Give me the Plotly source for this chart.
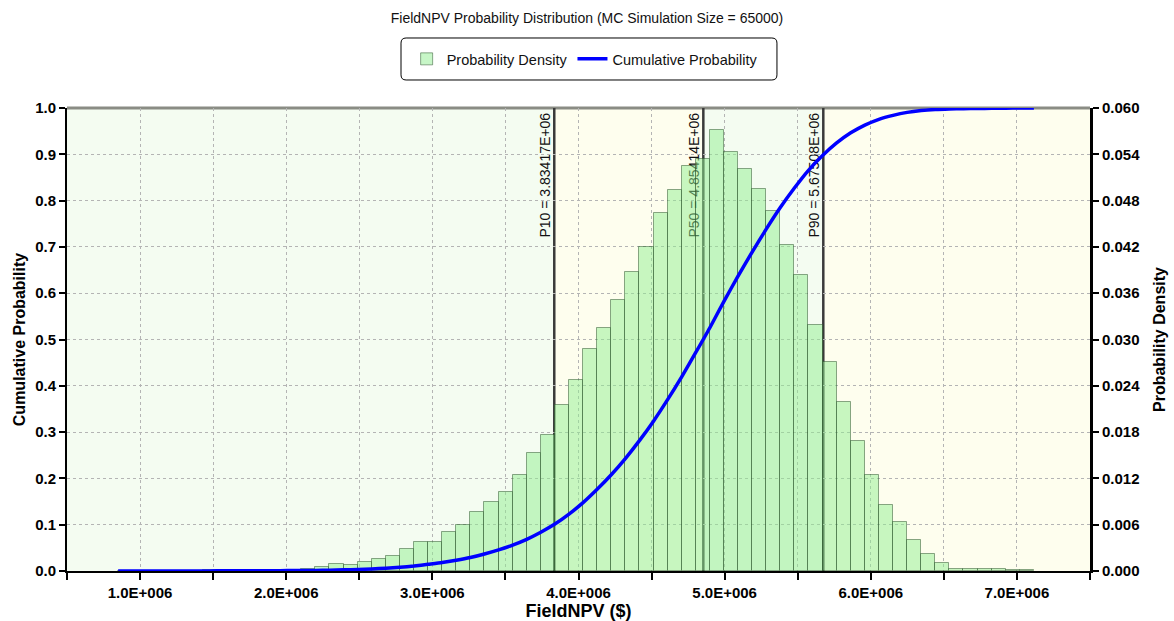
import plotly.graph_objects as go

# ---------------- data ----------------
bin_start = 0.85e6          # left edge of first histogram bin ($)
bin_width = 0.0964e6        # histogram bin width ($)

# probability per bin (right axis)
density = [
    0.00002, 0.00003, 0.00002, 0.00005, 0.00003, 0.00006, 0.00008, 0.00006,
    0.00010, 0.00012, 0.00011, 0.00015, 0.00018, 0.00020,
    0.00048, 0.00087, 0.00078, 0.00120, 0.00150, 0.00200, 0.00280, 0.00370,
    0.00370, 0.00500, 0.00590, 0.00770, 0.00890, 0.01020, 0.01250, 0.01530,
    0.01760, 0.02150, 0.02470, 0.02880, 0.03150, 0.03510, 0.03870, 0.04200,
    0.04640, 0.04940, 0.05250, 0.05340, 0.05710, 0.05430, 0.05210, 0.04950,
    0.04660, 0.04220, 0.03830, 0.03190, 0.02710, 0.02190, 0.01680, 0.01250,
    0.00850, 0.00640, 0.00400, 0.00220, 0.00110,
    0.00030, 0.00025, 0.00020, 0.00020, 0.00015, 0.00010,
]

# cumulative probability at each bin edge (left axis)
cum_prob = [
    0.0, 0.00002, 0.00005, 0.00007, 0.00012, 0.00015, 0.00021, 0.00029,
    0.00035, 0.00045, 0.00057, 0.00068, 0.00083, 0.00101, 0.00121,
    0.00169, 0.00256, 0.00334, 0.00454, 0.00604, 0.00804, 0.01084, 0.01454,
    0.01824, 0.02324, 0.02914, 0.03684, 0.04574, 0.05594, 0.06844, 0.08374,
    0.10134, 0.12284, 0.14754, 0.17634, 0.20784, 0.24294, 0.28164, 0.32364,
    0.37004, 0.41944, 0.47194, 0.52534, 0.58244, 0.63674, 0.68884, 0.73834,
    0.78494, 0.82714, 0.86544, 0.89734, 0.92444, 0.94634, 0.96314, 0.97564,
    0.98414, 0.99054, 0.99454, 0.99674, 0.99784, 0.99844, 0.99894, 0.99934,
    0.99964, 0.99985, 1.0,
]

p_names = ["P10", "P50", "P90"]
p_values = [3.83417e6, 4.85414e6, 5.67508e6]
p_texts = ["P10 = 3.83417E+06", "P50 = 4.85414E+06", "P90 = 5.67508E+06"]

x_range = [0.5e6, 7.5e6]
x_tickvals = [0.5e6, 1.0e6, 1.5e6, 2.0e6, 2.5e6, 3.0e6, 3.5e6, 4.0e6,
              4.5e6, 5.0e6, 5.5e6, 6.0e6, 6.5e6, 7.0e6, 7.5e6]
x_ticktext = ["", "1.0E+006", "", "2.0E+006", "", "3.0E+006", "", "4.0E+006",
              "", "5.0E+006", "", "6.0E+006", "", "7.0E+006", ""]

title_text = "FieldNPV Probability Distribution (MC Simulation Size = 65000)"

# ---------------- figure ----------------
FONT = "Liberation Sans, Arial, sans-serif"
GREEN_BG = "#F4FCF1"
YELLOW_BG = "#FEFEEE"

bar_x = [bin_start + (i + 0.5) * bin_width for i in range(len(density))]
cum_x = [bin_start + i * bin_width for i in range(len(cum_prob))]

fig = go.Figure()
fig.add_trace(go.Bar(
    x=bar_x, y=density, width=bin_width, name="Probability Density",
    marker=dict(color="rgba(144,238,144,0.5)",
                line=dict(color="rgba(40,80,40,0.5)", width=1)),
    yaxis="y",
))
fig.add_trace(go.Scatter(
    x=cum_x, y=cum_prob, mode="lines", name="Cumulative Probability",
    line=dict(color="#0000FF", width=3.5, shape="spline", smoothing=0.6),
    yaxis="y2",
))

shapes = []
# background bands
bounds = [x_range[0]] + p_values + [x_range[1]]
band_cols = [GREEN_BG, YELLOW_BG, GREEN_BG, YELLOW_BG]
for i, c in enumerate(band_cols):
    shapes.append(dict(type="rect", xref="x", yref="paper",
                       x0=bounds[i], x1=bounds[i + 1], y0=0, y1=1,
                       fillcolor=c, line=dict(width=0), layer="below"))
# top border
shapes.append(dict(type="line", xref="paper", yref="paper", x0=0, x1=1,
                   y0=1, y1=1, line=dict(color="#8A8C84", width=3),
                   layer="between"))
# percentile lines
for v, t in zip(p_values, p_texts):
    shapes.append(dict(type="line", xref="x", yref="paper", x0=v, x1=v,
                       y0=0, y1=1, line=dict(color="#3A3A3A", width=2.5),
                       layer="between"))
    shapes.append(dict(type="line", xref="x", yref="paper", x0=v, x1=v,
                       y0=0, y1=0.985, line=dict(color="rgba(0,0,0,0)", width=0),
                       layer="between",
                       label=dict(text=t, textposition="end", textangle=-90,
                                  xanchor="right", yanchor="bottom", padding=2,
                                  font=dict(family=FONT, size=14, color="#111111"))))

# rounded legend box
x0, x1, y0, y1 = 0.3265, 0.6940, 1.0605, 1.1512
rx, ry = 0.005, 0.011
path = (f"M {x0+rx},{y1} L {x1-rx},{y1} Q {x1},{y1} {x1},{y1-ry} "
        f"L {x1},{y0+ry} Q {x1},{y0} {x1-rx},{y0} L {x0+rx},{y0} "
        f"Q {x0},{y0} {x0},{y0+ry} L {x0},{y1-ry} Q {x0},{y1} {x0+rx},{y1} Z")
shapes.append(dict(type="path", xref="paper", yref="paper", path=path,
                   line=dict(color="#000000", width=1), fillcolor="rgba(0,0,0,0)",
                   layer="above"))

tickfont = dict(family=FONT, size=15, color="#000000", weight="bold")
titlefont = dict(family=FONT, size=16, color="#000000", weight="bold")

fig.update_layout(
    width=1174, height=621,
    margin=dict(l=67, r=84, t=108, b=50, autoexpand=False),
    paper_bgcolor="white", plot_bgcolor="white",
    bargap=0,
    showlegend=True,
    title=dict(text=title_text, x=0.5, xanchor="center", y=1 - 18 / 621,
               yanchor="middle", font=dict(family=FONT, size=14, color="#111111")),
    legend=dict(orientation="h", x=0.506, xanchor="center", y=1.106,
                yanchor="middle", bgcolor="rgba(0,0,0,0)", borderwidth=0,
                font=dict(family=FONT, size=14.5, color="#111111"),
                itemwidth=30, traceorder="normal"),
    xaxis=dict(range=x_range, tickvals=x_tickvals, ticktext=x_ticktext,
               showgrid=True, gridcolor="#B4B4B4", griddash="dot", gridwidth=1,
               showline=True, linecolor="black", linewidth=2,
               ticks="outside", ticklen=7, tickwidth=2, tickcolor="black",
               tickfont=tickfont, zeroline=False, automargin=False,
               title=dict(text="FieldNPV ($)",
                          font=dict(family=FONT, size=18, color="#000000", weight="bold"),
                          standoff=5)),
    yaxis=dict(range=[0, 0.06], tick0=0, dtick=0.006, tickformat=".3f",
               side="right", showgrid=True, gridcolor="#B4B4B4",
               griddash="dot", gridwidth=1,
               showline=True, linecolor="black", linewidth=3,
               ticks="outside", ticklen=6, tickwidth=2, tickcolor="black",
               tickfont=tickfont, zeroline=False, automargin=False,
               title=dict(text="Probability Density", font=titlefont, standoff=15)),
    yaxis2=dict(range=[0, 1], tick0=0, dtick=0.1, tickformat=".1f",
                side="left", overlaying="y", showgrid=False,
                showline=True, linecolor="black", linewidth=2,
                ticks="outside", ticklen=6, tickwidth=2, tickcolor="black",
                tickfont=tickfont, zeroline=False, automargin=False,
                title=dict(text="Cumulative Probability", font=titlefont, standoff=6)),
    shapes=shapes,
)

fig.write_html("out.html")
